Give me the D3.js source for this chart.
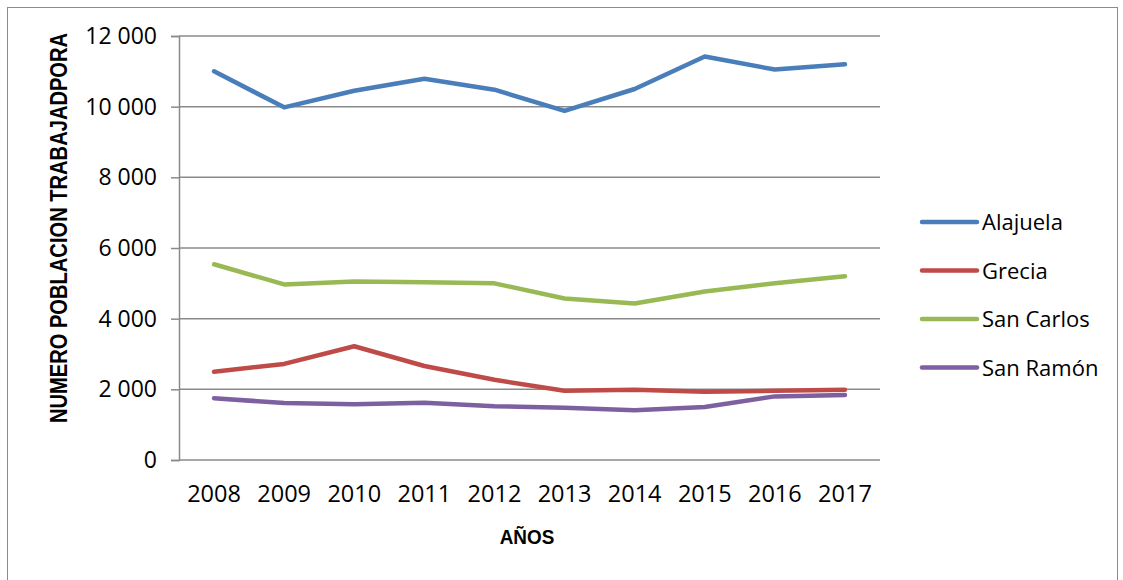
<!DOCTYPE html>
<html>
<head>
<meta charset="utf-8">
<script src="https://d3js.org/d3.v7.min.js"></script>
<style>
  body { margin: 0; background: #fff; }
</style>
</head>
<body>
<div id="chart"></div>
<script>
  // chart data
  const years = ['2008', '2009', '2010', '2011', '2012', '2013', '2014', '2015', '2016', '2017'];
  const alajuela = [11000, 9980, 10450, 10790, 10480, 9880, 10500, 11420, 11050, 11200];
  const grecia = [2500, 2720, 3220, 2660, 2270, 1960, 1990, 1930, 1960, 1990];
  const sanCarlos = [5540, 4970, 5050, 5030, 5000, 4570, 4430, 4770, 5000, 5200];
  const sanRamon = [1750, 1610, 1580, 1620, 1520, 1480, 1410, 1500, 1800, 1840];
  const seriesNames = ['Alajuela', 'Grecia', 'San Carlos', 'San Ramón'];
  const yTicks = [0, 2000, 4000, 6000, 8000, 10000, 12000];

  const series = [
    {name: seriesNames[0], values: alajuela, color: '#4a7ebb'},
    {name: seriesNames[1], values: grecia, color: '#be4b48'},
    {name: seriesNames[2], values: sanCarlos, color: '#98b954'},
    {name: seriesNames[3], values: sanRamon, color: '#7d60a0'}
  ];

  const W = 1123, H = 580;
  const plot = {left: 179, right: 880, top: 36, bottom: 460};

  const svg = d3.select('#chart').append('svg')
    .attr('width', W)
    .attr('height', H);

  // outer border
  svg.append('rect')
    .attr('x', 7.5).attr('y', 7.5)
    .attr('width', 1110).attr('height', 580)
    .attr('fill', 'none')
    .attr('stroke', '#8c8c8c')
    .attr('stroke-width', 1);

  const x = d3.scaleBand()
    .domain(years)
    .range([plot.left, plot.right]);

  const y = d3.scaleLinear()
    .domain([0, 12000])
    .range([plot.bottom, plot.top]);

  // gridlines
  svg.append('g')
    .selectAll('line')
    .data(yTicks)
    .enter()
    .append('line')
    .attr('x1', plot.left)
    .attr('x2', plot.right)
    .attr('y1', d => y(d))
    .attr('y2', d => y(d))
    .style('stroke', '#8a8a8a')
    .style('stroke-width', 1.5);

  // y axis
  const fmt = d => d3.format(',')(d).replace(/,/g, ' ');
  const yAxis = svg.append('g')
    .attr('transform', `translate(${plot.left},0)`)
    .call(d3.axisLeft(y).tickValues(yTicks).tickFormat(fmt).tickSize(8).tickPadding(14));
  yAxis.select('.domain').style('stroke', '#8a8a8a').style('stroke-width', 1.5);
  yAxis.selectAll('.tick line').style('stroke', '#8a8a8a').style('stroke-width', 1.5);
  yAxis.selectAll('.tick text')
    .style('font-family', 'Open Sans')
    .style('font-size', '23px')
    .style('fill', '#000');

  // x axis labels
  const xAxis = svg.append('g')
    .attr('transform', `translate(0,${plot.bottom})`)
    .call(d3.axisBottom(x).tickSize(0).tickPadding(25));
  xAxis.select('.domain').remove();
  xAxis.selectAll('.tick text')
    .style('font-family', 'Open Sans')
    .style('font-size', '23.5px')
    .style('fill', '#000');

  // axis titles (squeezed along the text direction to match the narrow original font)
  svg.append('text')
    .attr('transform', 'translate(67,228) rotate(-90) scale(0.875,1)')
    .attr('text-anchor', 'middle')
    .style('font-family', 'Liberation Sans')
    .style('font-weight', 'bold')
    .style('font-size', '23px')
    .text('NUMERO POBLACION TRABAJADPORA');

  svg.append('text')
    .attr('transform', 'translate(527,544) scale(0.9,1)')
    .attr('text-anchor', 'middle')
    .style('font-family', 'Liberation Sans')
    .style('font-weight', 'bold')
    .style('font-size', '21px')
    .text('AÑOS');

  // lines
  const line = d3.line()
    .x((d, i) => x(years[i]) + x.bandwidth() / 2)
    .y(d => y(d));

  svg.append('g')
    .selectAll('path')
    .data(series)
    .enter()
    .append('path')
    .attr('d', d => line(d.values))
    .attr('fill', 'none')
    .attr('stroke', d => d.color)
    .attr('stroke-width', 4.5)
    .attr('stroke-linejoin', 'round')
    .attr('stroke-linecap', 'round');

  // legend
  const legend = svg.append('g')
    .selectAll('g')
    .data(series)
    .enter()
    .append('g')
    .attr('transform', (d, i) => `translate(922,${222 + i * 48.5})`);

  legend.append('line')
    .attr('x1', 0).attr('x2', 55)
    .attr('y1', 0).attr('y2', 0)
    .attr('stroke', d => d.color)
    .attr('stroke-width', 4.5)
    .attr('stroke-linecap', 'round');

  legend.append('text')
    .attr('x', 60)
    .attr('y', 8)
    .style('font-family', 'Open Sans')
    .style('font-size', '22px')
    .style('fill', '#000')
    .text(d => d.name);
</script>
</body>
</html>
